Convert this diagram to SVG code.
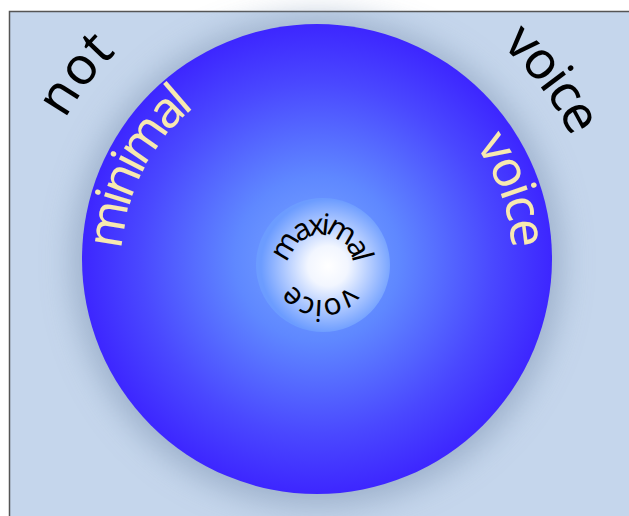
<svg xmlns="http://www.w3.org/2000/svg" width="629" height="516" viewBox="0 0 629 516">
<style>
.t{font-family:"Noto Sans","DejaVu Sans",sans-serif;font-stretch:condensed}
.blk{fill:#000;font-size:52px}
.yel{fill:#f7e9b0;font-size:50px}
.inn{fill:#000;font-size:30px}
</style>
<defs>
<radialGradient id="gOuter" cx="317" cy="259" r="235" gradientUnits="userSpaceOnUse">
<stop offset="0" stop-color="#7aa8ff"/>
<stop offset="0.35" stop-color="#5f88ff"/>
<stop offset="0.75" stop-color="#4a48ff"/>
<stop offset="1" stop-color="#3d26ff"/>
</radialGradient>
<radialGradient id="gInner" cx="328" cy="266" r="67" gradientUnits="userSpaceOnUse">
<stop offset="0" stop-color="#ffffff"/>
<stop offset="0.3" stop-color="#f2f6ff"/>
<stop offset="1" stop-color="#6c9cff"/>
</radialGradient>
<filter id="blur" x="-30%" y="-30%" width="160%" height="160%">
<feGaussianBlur stdDeviation="16"/>
</filter>
<path id="pBlack" d="M29,259 A288,288 0 1 1 605,259 A288,288 0 1 1 29,259"/>
<path id="pBlack2" d="M35,259 A282,282 0 1 1 599,259 A282,282 0 1 1 35,259"/>
<path id="pYel" d="M122,259 A195,195 0 1 1 512,259 A195,195 0 1 1 122,259"/>
<path id="pIn" d="M288.5,267.5 A32.5,32.5 0 1 1 353.5,267.5 A32.5,32.5 0 1 1 288.5,267.5"/>
</defs>
<rect x="0" y="0" width="629" height="516" fill="#ffffff"/>
<rect x="9.5" y="11.5" width="630" height="520" fill="#c5d6ec" stroke="#555" stroke-width="1.5"/>
<g id="shadow">
<circle cx="317" cy="262" r="244" fill="#8ea3bf" opacity="0.75" filter="url(#blur)"/>
</g>
<g id="outer">
<circle cx="317" cy="259" r="235" fill="url(#gOuter)"/>
</g>
<g id="inner">
<circle cx="323" cy="265" r="67" fill="url(#gInner)"/>
</g>
<g id="labels">
<text class="t blk"><textPath href="#pBlack" startOffset="188" text-anchor="middle" textLength="84" lengthAdjust="spacing">not</textPath></text>
<text class="t blk"><textPath href="#pBlack2" startOffset="702" text-anchor="middle" textLength="116" lengthAdjust="spacing">voice</textPath></text>
<text class="t yel"><textPath href="#pYel" startOffset="91.5" text-anchor="middle" textLength="165" lengthAdjust="spacing">minimal</textPath></text>
<text class="t yel"><textPath href="#pYel" startOffset="546.5" text-anchor="middle" textLength="111" lengthAdjust="spacing">voice</textPath></text>
<text class="t inn"><textPath href="#pIn" startOffset="50.5" text-anchor="middle" textLength="94" lengthAdjust="spacing">maximal</textPath></text>
<text class="t inn"><textPath href="#pIn" startOffset="153.7" text-anchor="middle" textLength="66" lengthAdjust="spacing">voice</textPath></text>
</g>
</svg>
